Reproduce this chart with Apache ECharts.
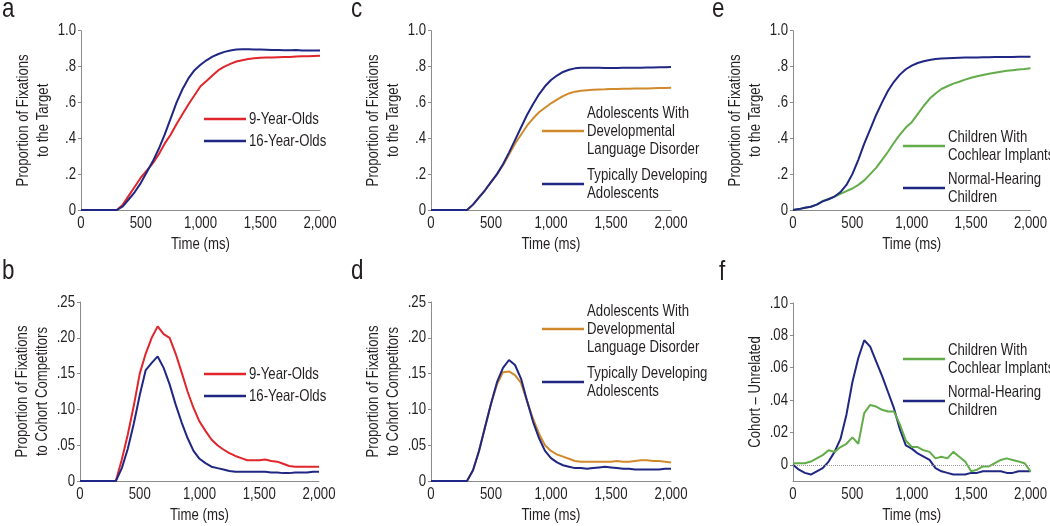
<!DOCTYPE html>
<html>
<head>
<meta charset="utf-8">
<script src="https://cdn.jsdelivr.net/npm/echarts@6/dist/echarts.min.js"></script>
<style>
html,body{margin:0;padding:0;background:#fff;}
#chart{width:1050px;height:526px;}
</style>
</head>
<body>
<div id="chart"></div>
<script>
// ---------- DATA ----------
var TIME = [0,50,100,150,200,250,300,350,400,450,500,550,600,650,700,750,800,850,900,950,1000,
            1050,1100,1150,1200,1250,1300,1350,1400,1450,1500,1550,1600,1650,1700,1750,1800,1850,1900,1950,2000];
var X_TICKS = [0, 500, 1000, 1500, 2000];

// Panel a: target fixations, age groups
var nineTarget = [0,0,0,0,0,0,0,0.03,0.08,0.13,0.18,0.22,0.26,0.31,0.37,0.42,0.48,0.535,0.59,0.64,0.69,
                  0.72,0.75,0.78,0.80,0.815,0.828,0.835,0.842,0.846,0.849,0.85,0.851,0.852,0.853,0.854,0.856,0.857,0.858,0.859,0.86];
var sixteenTarget = [0,0,0,0,0,0,0,0.02,0.06,0.10,0.15,0.21,0.27,0.34,0.42,0.51,0.60,0.675,0.735,0.78,0.81,
                     0.835,0.855,0.87,0.882,0.89,0.895,0.896,0.896,0.895,0.895,0.894,0.893,0.892,0.891,0.891,0.892,0.89,0.889,0.889,0.889];
// Panel b: cohort competitor fixations, age groups
var nineCohort = [0,0,0,0,0,0,0,0.03,0.065,0.105,0.15,0.178,0.2,0.216,0.205,0.2,0.178,0.152,0.125,0.102,0.083,
                  0.07,0.058,0.05,0.044,0.039,0.035,0.032,0.029,0.029,0.029,0.03,0.028,0.027,0.024,0.021,0.02,0.02,0.02,0.02,0.02];
var sixteenCohort = [0,0,0,0,0,0,0,0.018,0.045,0.08,0.12,0.155,0.165,0.174,0.158,0.135,0.107,0.082,0.06,0.042,0.031,
                     0.025,0.02,0.018,0.016,0.014,0.013,0.013,0.013,0.013,0.013,0.013,0.012,0.012,0.011,0.011,0.012,0.012,0.012,0.013,0.013];
// Panel c: target fixations, DLD vs TD
var dldTarget = [0,0,0,0,0,0,0,0.03,0.07,0.11,0.155,0.2,0.25,0.31,0.37,0.42,0.47,0.51,0.545,0.57,0.595,
                 0.615,0.635,0.65,0.66,0.665,0.668,0.67,0.672,0.673,0.675,0.675,0.676,0.676,0.677,0.677,0.678,0.679,0.68,0.681,0.682];
var tdTarget = [0,0,0,0,0,0,0,0.03,0.07,0.11,0.155,0.2,0.255,0.32,0.39,0.46,0.53,0.59,0.645,0.69,0.725,
                0.75,0.77,0.782,0.79,0.793,0.794,0.793,0.793,0.792,0.792,0.792,0.793,0.793,0.794,0.794,0.795,0.795,0.796,0.796,0.797];
// Panel d: cohort competitor fixations, DLD vs TD
var dldCohort = [0,0,0,0,0,0,0,0.015,0.042,0.075,0.108,0.135,0.152,0.153,0.148,0.137,0.112,0.087,0.066,0.05,0.042,
                 0.037,0.034,0.031,0.028,0.027,0.027,0.027,0.027,0.027,0.027,0.028,0.027,0.027,0.028,0.029,0.029,0.028,0.028,0.027,0.026];
var tdCohort = [0,0,0,0,0,0,0,0.015,0.042,0.075,0.108,0.138,0.158,0.169,0.162,0.143,0.112,0.083,0.06,0.042,0.032,
                0.026,0.022,0.02,0.018,0.018,0.017,0.018,0.019,0.02,0.019,0.018,0.017,0.017,0.016,0.016,0.016,0.016,0.016,0.017,0.017];
// Panel e: target fixations, CI vs NH
var ciTarget = [0,0.005,0.012,0.018,0.03,0.05,0.062,0.075,0.09,0.105,0.12,0.14,0.165,0.2,0.235,0.28,0.325,0.375,0.42,0.46,0.49,
                0.535,0.58,0.62,0.65,0.675,0.69,0.705,0.715,0.727,0.738,0.746,0.753,0.76,0.766,0.771,0.776,0.78,0.784,0.787,0.791];
var nhTarget = [0,0.005,0.012,0.018,0.03,0.048,0.06,0.075,0.1,0.14,0.2,0.28,0.37,0.45,0.53,0.6,0.665,0.715,0.755,0.785,0.805,
                0.82,0.83,0.837,0.842,0.845,0.847,0.848,0.849,0.85,0.851,0.851,0.852,0.852,0.853,0.853,0.854,0.854,0.855,0.855,0.855];
// Panel f: cohort minus unrelated, CI vs NH
var ciDiff = [0.001,0.001,0.001,0.002,0.004,0.006,0.009,0.008,0.011,0.013,0.017,0.013,0.032,0.037,0.036,0.034,0.033,0.033,0.025,0.015,0.011,
              0.011,0.009,0.008,0.004,0.005,0.004,0.008,0.005,0.002,-0.004,-0.003,-0.001,-0.001,0.001,0.003,0.004,0.003,0.002,0.001,-0.004];
var nhDiff = [0,-0.003,-0.005,-0.006,-0.004,-0.002,0.002,0.008,0.016,0.031,0.051,0.066,0.077,0.073,0.064,0.055,0.045,0.035,0.022,0.012,0.01,
              0.007,0.005,0.003,-0.002,-0.004,-0.005,-0.006,-0.006,-0.006,-0.005,-0.005,-0.004,-0.004,-0.004,-0.004,-0.005,-0.005,-0.004,-0.004,-0.004];

var TARGET_TICKS = [0, 0.2, 0.4, 0.6, 0.8, 1.0];
var COHORT_TICKS = [0, 0.05, 0.10, 0.15, 0.20, 0.25];
var DIFF_TICKS = [0, 0.02, 0.04, 0.06, 0.08, 0.10];

var NAME_9 = '9-Year-Olds', NAME_16 = '16-Year-Olds';
var NAME_DLD = 'Adolescents With\nDevelopmental\nLanguage Disorder';
var NAME_TD = 'Typically Developing\nAdolescents';
var NAME_CI = 'Children With\nCochlear Implants';
var NAME_NH = 'Normal-Hearing\nChildren';

// ---------- condensed text rendering (horizontal squeeze, text stays real text) ----------
(function(){
  var S = 0.8;
  var P = CanvasRenderingContext2D.prototype;
  var ft = P.fillText, st = P.strokeText, mt = P.measureText;
  P.fillText = function(t, x, y){ this.save(); this.translate(x, y); this.scale(S, 1); ft.call(this, t, 0, 0); this.restore(); };
  P.strokeText = function(t, x, y){ this.save(); this.translate(x, y); this.scale(S, 1); st.call(this, t, 0, 0); this.restore(); };
  P.measureText = function(t){
    var m = mt.call(this, t);
    return {width: m.width * S,
      actualBoundingBoxAscent: m.actualBoundingBoxAscent, actualBoundingBoxDescent: m.actualBoundingBoxDescent,
      actualBoundingBoxLeft: m.actualBoundingBoxLeft * S, actualBoundingBoxRight: m.actualBoundingBoxRight * S,
      fontBoundingBoxAscent: m.fontBoundingBoxAscent, fontBoundingBoxDescent: m.fontBoundingBoxDescent};
  };
})();

// ---------- STYLE ----------
var FONT = "'Liberation Sans', Arial, sans-serif";
var TXT = '#231f20', AX = '#8c8c8c';
var RED = '#e0252b', NAVY = '#1f2683', ORANGE = '#d08a2b', GREEN = '#62ad49';
var FS = 16.5;

function pairs(vals){ return TIME.map(function(t,i){ return [t, vals[i]]; }); }
function fmtX(v){ return v >= 1000 ? Math.floor(v/1000) + ',' + String(v%1000).padStart(3,'0') : String(v); }
function fmtY(dec){ return function(v){ if (Math.abs(v) < 1e-9) return '0'; var s = v.toFixed(dec); return s.charAt(0)==='0' ? s.slice(1) : s; }; }

var grids = [
  {left:81, top:30.7, width:239, height:179.3},
  {left:431, top:30.7, width:240, height:179.3},
  {left:793, top:30.7, width:239, height:179.3},
  {left:80, top:302, width:239, height:179},
  {left:431, top:302, width:240, height:179},
  {left:793, top:303, width:239, height:178}
];

function xAx(g){
  return {type:'value', gridIndex:g, min:0, max:2000, interval:500,
    axisLine:{show:true, onZero:false, lineStyle:{color:AX, width:1}},
    axisTick:{show:false}, splitLine:{show:false},
    axisLabel:{color:TXT, fontSize:FS, fontFamily:FONT, margin:7, formatter:fmtX, customValues:X_TICKS},
    name:'Time (ms)', nameLocation:'middle', nameGap:28,
    nameTextStyle:{color:TXT, fontSize:FS, fontFamily:FONT}};
}
function yAx(g, min, max, ticks, dec, name){
  return {type:'value', gridIndex:g, min:min, max:max,
    axisLine:{show:true, lineStyle:{color:AX, width:1}},
    axisTick:{show:true, length:3, lineStyle:{color:AX}, customValues:ticks},
    splitLine:{show:false},
    axisLabel:{color:TXT, fontSize:FS, fontFamily:FONT, margin:5, formatter:fmtY(dec), customValues:ticks},
    name:name, nameLocation:'middle', nameRotate:90, nameGap:25,
    nameTextStyle:{color:TXT, fontSize:FS, fontFamily:FONT, lineHeight:20}};
}
function ser(name, vals, color, g){
  return {type:'line', name:name, xAxisIndex:g, yAxisIndex:g, data:pairs(vals),
    showSymbol:false, symbol:'none', lineStyle:{color:color, width:2}, itemStyle:{color:color},
    z: 3};
}
function leg(names, left, top, gap){
  return {data:names, orient:'vertical', left:left, top:top, itemGap:gap, padding:0,
    icon:'rect', itemWidth:42, itemHeight:2.5, selectedMode:false,
    textStyle:{color:TXT, fontSize:FS, fontFamily:FONT, lineHeight:18, padding:[0,0,0,-2]}};
}
function lbl(t, left, top){
  return {text:t, left:left, top:top, padding:0,
    textStyle:{color:TXT, fontSize:28, fontWeight:'normal', fontFamily:FONT}};
}

var series = [
  ser(NAME_9, nineTarget, RED, 0), ser(NAME_16, sixteenTarget, NAVY, 0),
  ser(NAME_DLD, dldTarget, ORANGE, 1), ser(NAME_TD, tdTarget, NAVY, 1),
  ser(NAME_CI, ciTarget, GREEN, 2), ser(NAME_NH, nhTarget, NAVY, 2),
  ser(NAME_9, nineCohort, RED, 3), ser(NAME_16, sixteenCohort, NAVY, 3),
  ser(NAME_DLD, dldCohort, ORANGE, 4), ser(NAME_TD, tdCohort, NAVY, 4),
  ser(NAME_CI, ciDiff, GREEN, 5), ser(NAME_NH, nhDiff, NAVY, 5)
];
series[10].markLine = {silent:true, symbol:'none', label:{show:false}, animation:false,
  lineStyle:{type:'dotted', color:'#9a9a9a', width:1}, data:[{yAxis:0}]};
series[10].z = 4; series[11].z = 3;

var option = {
  animation:false,
  backgroundColor:'#fff',
  title:[lbl('a',2,-2), lbl('c',351,-2), lbl('e',712,-2), lbl('b',2,260), lbl('d',351,260), lbl('f',719,261)],
  grid:grids,
  xAxis:[xAx(0),xAx(1),xAx(2),xAx(3),xAx(4),xAx(5)],
  yAxis:[
    yAx(0,0,1,TARGET_TICKS,1,'Proportion of Fixations\nto the Target'),
    yAx(1,0,1,TARGET_TICKS,1,'Proportion of Fixations\nto the Target'),
    yAx(2,0,1,TARGET_TICKS,1,'Proportion of Fixations\nto the Target'),
    yAx(3,0,0.25,COHORT_TICKS,2,'Proportion of Fixations\nto Cohort Competitors'),
    yAx(4,0,0.25,COHORT_TICKS,2,'Proportion of Fixations\nto Cohort Competitors'),
    yAx(5,-0.01,0.10,DIFF_TICKS,2,'Cohort \u2013 Unrelated')
  ],
  legend:[
    leg([NAME_9, NAME_16], 204, 110, 4),
    leg([NAME_DLD, NAME_TD], 542, 104, 8),
    leg([NAME_CI, NAME_NH], 903, 128, 6),
    leg([NAME_9, NAME_16], 204, 365, 4),
    leg([NAME_DLD, NAME_TD], 542, 302, 8),
    leg([NAME_CI, NAME_NH], 903, 341, 6)
  ],
  series:series
};
var chart = echarts.init(document.getElementById('chart'), null, {renderer:'canvas'});
chart.setOption(option);
</script>
</body>
</html>
